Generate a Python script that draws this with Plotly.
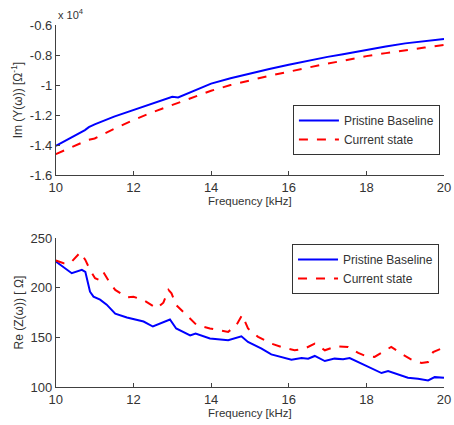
import plotly.graph_objects as go

# ---- data ----
freq_top = [10.0, 10.25, 10.5, 10.75, 10.85, 11.0, 11.5, 12.0, 12.5, 13.0, 13.15, 13.5, 14.0, 14.5, 15.0, 15.5, 16.0, 16.5, 17.0, 17.4, 17.5, 18.0, 18.5, 19.0, 19.5, 20.0]
im_pristine = [-1.405, -1.37, -1.335, -1.30, -1.28, -1.262, -1.21, -1.167, -1.12, -1.078, -1.082, -1.045, -0.99, -0.955, -0.922, -0.893, -0.865, -0.838, -0.812, -0.795, -0.790, -0.766, -0.743, -0.722, -0.707, -0.693]
im_current = [-1.46, -1.43, -1.40, -1.375, -1.365, -1.356, -1.292, -1.233, -1.18, -1.133, -1.12, -1.09, -1.038, -1.00, -0.967, -0.938, -0.911, -0.883, -0.856, -0.838, -0.832, -0.807, -0.787, -0.767, -0.75, -0.733]

freq_pb = [10.0, 10.41, 10.67, 10.76, 10.82, 10.88, 10.97, 11.1, 11.14, 11.31, 11.53, 11.83, 12.26, 12.5, 12.69, 12.86, 12.94, 13.1, 13.46, 13.6, 13.97, 14.44, 14.78, 14.95, 15.3, 15.55, 15.81, 16.07, 16.33, 16.5, 16.67, 16.93, 17.18, 17.4, 17.57, 17.79, 18.0, 18.21, 18.39, 18.56, 18.82, 19.07, 19.33, 19.59, 19.76, 20.0]
re_pristine = [226.4, 214.6, 218, 216, 206, 196, 191, 189, 188, 183, 174, 170, 166, 161, 164, 167.4, 168, 159, 152, 154, 149, 147.2, 151.2, 145.5, 138.8, 133, 130.3, 127.7, 129.3, 128.7, 131.4, 126.3, 128.7, 128, 129.3, 125.3, 121, 117.5, 114.2, 116.2, 112.8, 109.5, 108.4, 106.8, 110.1, 109.5]

freq_cs = [10.0, 10.2, 10.37, 10.63, 10.76, 10.88, 11.01, 11.1, 11.23, 11.4, 11.53, 11.83, 12.0, 12.26, 12.6, 12.77, 12.9, 12.98, 13.1, 13.37, 13.63, 13.97, 14.44, 14.65, 14.8, 14.95, 15.21, 15.55, 15.81, 16.15, 16.41, 16.67, 16.93, 17.23, 17.53, 17.79, 18.0, 18.21, 18.43, 18.64, 18.9, 19.16, 19.42, 19.59, 19.72, 20.0]
re_current = [227.4, 224.7, 224.7, 235.5, 228, 218, 209.6, 208, 215.3, 204.5, 197.8, 190.3, 191, 187.6, 179.2, 185, 197.8, 194.4, 182.6, 172.5, 162.4, 159, 155.6, 162.4, 172.5, 159, 150.6, 143.8, 140.5, 137.1, 138.8, 143.8, 137.1, 141.1, 140.5, 134.4, 131, 130.4, 135.4, 140.5, 133.7, 127.7, 124.3, 125.3, 135.4, 139.8]

x_ticks = [10, 12, 14, 16, 18, 20]
top_yticks = [-1.6, -1.4, -1.2, -1.0, -0.8, -0.6]
top_yticktext = ["-1.6", "-1.4", "-1.2", "-1", "-0.8", "-0.6"]
bot_yticks = [100, 150, 200, 250]

FONT = "Liberation Sans"
TXT = "#333333"
AX = "#404040"

fig = go.Figure()
fig.add_trace(go.Scatter(x=freq_top, y=im_pristine, mode="lines", name="Pristine Baseline",
                         line=dict(color="#0000ff", width=2), xaxis="x", yaxis="y", legend="legend"))
fig.add_trace(go.Scatter(x=freq_top, y=im_current, mode="lines", name="Current state",
                         line=dict(color="#ff0000", width=2, dash="dash"), xaxis="x", yaxis="y", legend="legend"))
fig.add_trace(go.Scatter(x=freq_pb, y=re_pristine, mode="lines", name="Pristine Baseline",
                         line=dict(color="#0000ff", width=2), xaxis="x2", yaxis="y2", legend="legend2"))
fig.add_trace(go.Scatter(x=freq_cs, y=re_current, mode="lines", name="Current state",
                         line=dict(color="#ff0000", width=2, dash="dash"), xaxis="x2", yaxis="y2", legend="legend2"))

axis_common = dict(showgrid=False, zeroline=False, showline=True, linecolor=AX, linewidth=1,
                   ticks="inside", ticklen=4, tickcolor=AX, mirror=False, automargin=False,
                   tickfont=dict(family=FONT, size=13, color=TXT))

fig.update_layout(
    width=454, height=425, margin=dict(l=0, r=0, t=0, b=0),
    paper_bgcolor="white", plot_bgcolor="white",
    font=dict(family=FONT, size=12, color=TXT),
    xaxis=dict(domain=[0.123, 0.978], range=[10, 20], tickvals=x_ticks, anchor="y",
               title=dict(text="Frequency [kHz]", font=dict(size=11.5), standoff=2), **axis_common),
    yaxis=dict(domain=[0.588, 0.941], range=[-1.6, -0.6], tickvals=top_yticks, ticktext=top_yticktext, anchor="x",
               title=dict(text="Im (Y(ω)) [Ω<sup>-1</sup>]", font=dict(size=12), standoff=4), **axis_common),
    xaxis2=dict(domain=[0.123, 0.978], range=[10, 20], tickvals=x_ticks, anchor="y2",
                title=dict(text="Frequency [kHz]", font=dict(size=11.5), standoff=2), **axis_common),
    yaxis2=dict(domain=[0.089, 0.44], range=[100, 250], tickvals=bot_yticks, anchor="x2",
                title=dict(text="Re (Z(ω)) [ Ω]", font=dict(size=12), standoff=4), **axis_common),
    legend=dict(x=0.969, y=0.753, xanchor="right", yanchor="top", bgcolor="white",
                bordercolor="#333333", borderwidth=1, font=dict(family=FONT, size=12, color=TXT),
                tracegroupgap=0, itemwidth=40),
    legend2=dict(x=0.967, y=0.426, xanchor="right", yanchor="top", bgcolor="white",
                 bordercolor="#333333", borderwidth=1, font=dict(family=FONT, size=12, color=TXT),
                 tracegroupgap=0, itemwidth=40),
    showlegend=True,
    annotations=[dict(text="x 10<sup>4</sup>", x=0.123, y=0.945, xref="paper", yref="paper",
                      xanchor="left", yanchor="bottom", showarrow=False,
                      font=dict(family=FONT, size=11, color=TXT))],
)

fig.write_html("out.html")
